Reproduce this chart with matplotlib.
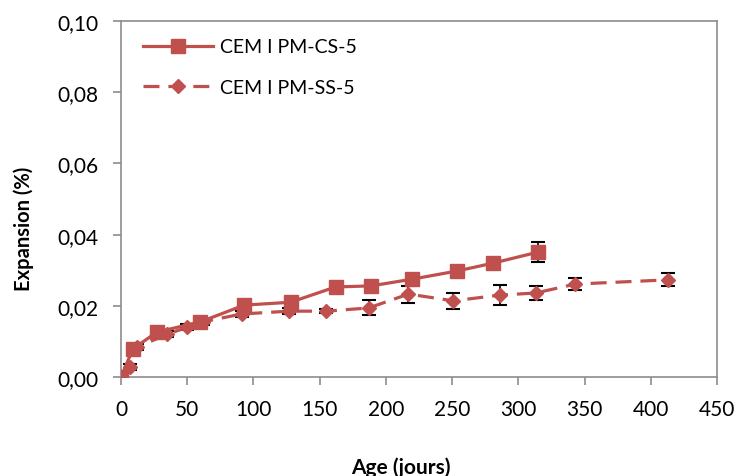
import numpy as np
import matplotlib.pyplot as plt
from matplotlib.ticker import FuncFormatter

# CEM I PM-CS-5
age_cs = [0, 9, 27, 60, 93, 128, 162, 189, 220, 254, 281, 315]
exp_cs = [0.0000, 0.0079, 0.0126, 0.0155, 0.0202, 0.0210, 0.0253, 0.0256, 0.0275, 0.0298, 0.0320, 0.0351]
err_cs = [0.0000, 0.0005, 0.0005, 0.0005, 0.0005, 0.0005, 0.0005, 0.0005, 0.0005, 0.0005, 0.0005, 0.0027]

# CEM I PM-SS-5
age_ss = [0, 7, 12, 35, 50, 62, 91, 127, 155, 187, 217, 251, 286, 313, 343, 413]
exp_ss = [0.0000, 0.0028, 0.0084, 0.0120, 0.0140, 0.0155, 0.0177, 0.0185, 0.0185,
          0.0194, 0.0233, 0.0214, 0.0230, 0.0236, 0.0261, 0.0273]
err_ss = [0.0000, 0.0008, 0.0008, 0.0008, 0.0008, 0.0008, 0.0008, 0.0008, 0.0005,
          0.0021, 0.0024, 0.0022, 0.0028, 0.0021, 0.0017, 0.0018]

red = '#C0504D'
plt.rcParams['font.family'] = ['Lato', 'DejaVu Sans']

fig = plt.figure(figsize=(7.4, 4.77), dpi=100)
ax = fig.add_axes([0.1635, 0.2075, 0.8055, 0.7464])

ax.errorbar(age_cs, exp_cs, yerr=err_cs, fmt='none', ecolor='black',
            elinewidth=1.2, capsize=5, capthick=1.5, zorder=2)
ax.errorbar(age_ss, exp_ss, yerr=err_ss, fmt='none', ecolor='black',
            elinewidth=1.2, capsize=5, capthick=1.5, zorder=2)
ax.plot(age_cs, exp_cs, '-', color=red, lw=2.3, marker='s', ms=10,
        label='CEM I PM-CS-5', zorder=3)
ax.plot(age_ss, exp_ss, color=red, lw=2.3, ls=(0, (5, 2.8)), marker='D', ms=7.5,
        label='CEM I PM-SS-5', zorder=3)

ax.set_xlim(0, 450)
ax.set_ylim(0, 0.10)
ax.set_xticks(np.arange(0, 451, 50))
ax.set_yticks(np.arange(0, 0.101, 0.02))
ax.yaxis.set_major_formatter(FuncFormatter(lambda v, p: ('%.2f' % v).replace('.', ',')))

for s in ax.spines.values():
    s.set_color('#8c8c8c')
    s.set_linewidth(1.2)
ax.tick_params(axis='both', direction='out', length=6, width=1.2, color='#8c8c8c',
               labelsize=15)
ax.tick_params(axis='x', pad=10)
ax.tick_params(axis='y', pad=10)

ax.set_ylabel('Expansion (%)', fontsize=14.5, fontweight='bold')
ax.yaxis.set_label_coords(-0.146, 0.42)
ax.set_xlabel('Age (jours)', fontsize=15, fontweight='bold')
ax.xaxis.set_label_coords(0.47, -0.222)

leg = ax.legend(loc='upper left', frameon=False, fontsize=14, handlelength=3.6,
                handletextpad=0.35, labelspacing=1.2, bbox_to_anchor=(0.008, 1.0))

plt.savefig('out.png', dpi=100)
